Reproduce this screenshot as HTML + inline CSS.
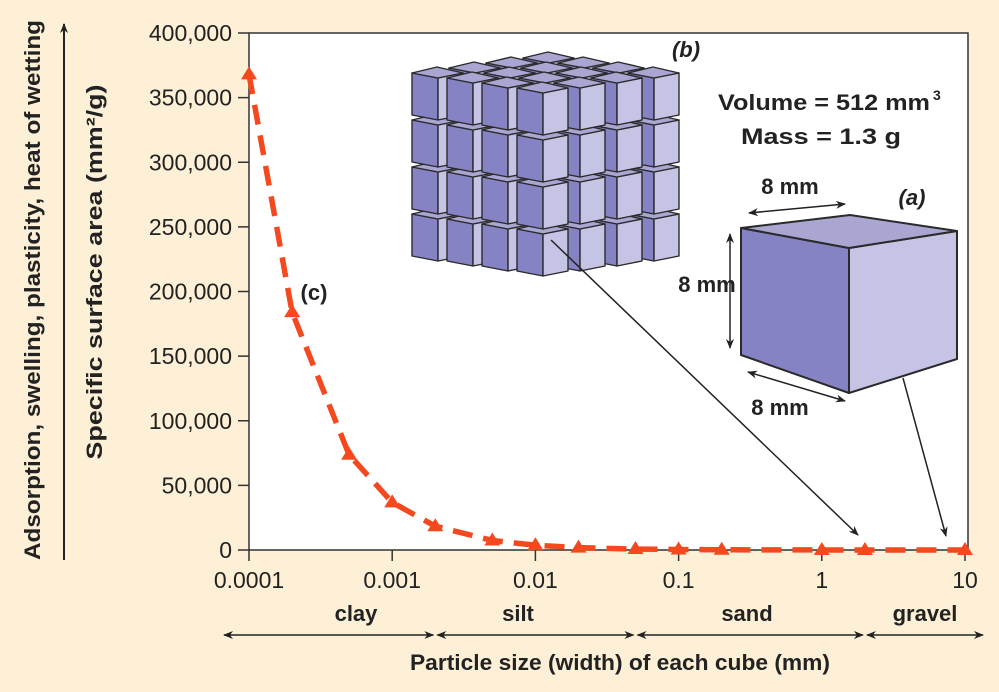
<!DOCTYPE html>
<html><head><meta charset="utf-8"><style>
body{margin:0;background:#fdf0d6;}
svg{display:block;font-family:"Liberation Sans",sans-serif;}
</style></head><body>
<svg id="chart" width="999" height="692" viewBox="0 0 999 692">
<defs><marker id="ah" markerWidth="10" markerHeight="8" refX="9" refY="4" orient="auto-start-reverse" markerUnits="userSpaceOnUse"><path d="M0,0 L10,4 L0,8 L3,4 Z" fill="#222"/></marker></defs>
<rect x="0" y="0" width="999" height="692" fill="#fdf0d6"/>
<rect x="249" y="33" width="719" height="517" fill="#fff" stroke="#333" stroke-width="1.5"/>
<g id="yaxis"></g>
<g id="xaxis"></g>
<g id="cubes"></g>
<g stroke="#2a2a2a" stroke-width="2" stroke-linejoin="round">
<polygon points="741,228 849,248 849,393 741,355" fill="#8583c4"/>
<polygon points="849,248 957,231 957,359 849,393" fill="#c6c4e4"/>
<polygon points="741,228 850,215 957,231 849,248" fill="#a9a6d2"/>
</g>
<g stroke="#222" stroke-width="1.5" fill="none">
<line x1="749" y1="213" x2="845" y2="204" marker-start="url(#ah)" marker-end="url(#ah)"/>
<line x1="730" y1="234" x2="730" y2="348" marker-start="url(#ah)" marker-end="url(#ah)"/>
<line x1="748" y1="372" x2="845" y2="401" marker-start="url(#ah)" marker-end="url(#ah)"/>
<line x1="551" y1="240" x2="858" y2="535" marker-end="url(#ah)"/>
<line x1="903" y1="378" x2="946" y2="536" marker-end="url(#ah)"/>
</g>
<g font-size="22" font-weight="bold" fill="#222">
<text x="790" y="194" text-anchor="middle">8 mm</text>
<text x="707" y="292" text-anchor="middle">8 mm</text>
<text x="780" y="415" text-anchor="middle">8 mm</text>
<text x="912" y="205" text-anchor="middle" font-style="italic">(a)</text>
<text x="686" y="57" text-anchor="middle" font-style="italic">(b)</text>
<text x="314" y="300" text-anchor="middle">(c)</text>
<text x="718" y="110" textLength="212" lengthAdjust="spacingAndGlyphs">Volume = 512 mm</text>
<text x="933" y="100" font-size="14">3</text>
<text x="741" y="144" textLength="160" lengthAdjust="spacingAndGlyphs">Mass = 1.3 g</text>
</g>
<g id="series"></g>
<g fill="#222" font-size="22" font-weight="bold">
<text transform="translate(102,272) rotate(-90)" text-anchor="middle" font-size="22" textLength="375" lengthAdjust="spacingAndGlyphs">Specific surface area (mm²/g)</text>
<text transform="translate(40,290) rotate(-90)" text-anchor="middle" font-size="22" textLength="540" lengthAdjust="spacingAndGlyphs">Adsorption, swelling, plasticity, heat of wetting</text>
<text x="620" y="670" text-anchor="middle" font-size="22" textLength="420" lengthAdjust="spacingAndGlyphs">Particle size (width) of each cube (mm)</text>
</g>
<line x1="64" y1="560" x2="64" y2="24" stroke="#222" stroke-width="2" marker-end="url(#ah)"/>
<g id="classes"></g>
</svg>
<script>
const yTicks=[0,50000,100000,150000,200000,250000,300000,350000,400000];
const xTicks=[0.0001,0.001,0.01,0.1,1,10];
const xTickLabels=["0.0001","0.001","0.01","0.1","1","10"];
const sizes=[0.0001,0.0002,0.0005,0.001,0.002,0.005,0.01,0.02,0.05,0.1,0.2,1,2,10];
const areas=[368000,184000,73700,36800,18400,7370,3680,1840,737,368,184,37,18,4];
const classNames=["clay","silt","sand","gravel"];
const classBounds=[0.00005,0.002,0.05,2,20];
const NS="http://www.w3.org/2000/svg";
const X0=249,X1=965,Y0=550,Y1=33;
const xs=v=>X0+(Math.log10(v)+4)/5*(X1-X0);
const ys=v=>Y0-v/400000*(Y0-Y1);
function mk(p,t,a){const e=document.createElementNS(NS,t);for(const k in a)e.setAttribute(k,a[k]);p.appendChild(e);return e;}
const ya=document.getElementById('yaxis');
yTicks.forEach(v=>{const l=mk(ya,'line',{x1:238,x2:249,y1:ys(v),y2:ys(v),stroke:'#333','stroke-width':1.5});


const t=mk(ya,'text',{x:232,y:ys(v)+8,'text-anchor':'end','font-size':23,fill:'#222'});


t.textContent=v.toLocaleString('en-US');});
const xa=document.getElementById('xaxis');
xTicks.forEach((v,i)=>{const l=mk(xa,'line',{x1:xs(v),x2:xs(v),y1:550,y2:561,stroke:'#333','stroke-width':1.5});


const t=mk(xa,'text',{x:xs(v),y:588,'text-anchor':'middle','font-size':23,fill:'#222'});


t.textContent=xTickLabels[i];});
const cg=document.getElementById('cubes');
function cube(x,y){const g=mk(cg,'g',{stroke:'#2a2a2a','stroke-width':1.4,'stroke-linejoin':'round'});


mk(g,'polygon',{points:`${x},${y+2} ${x+26},${y+7} ${x+26},${y+49} ${x},${y+44}`,fill:'#8583c4'});
mk(g,'polygon',{points:`${x+26},${y+7} ${x+51},${y+2} ${x+51},${y+44} ${x+26},${y+49}`,fill:'#c6c4e4'});
mk(g,'polygon',{points:`${x},${y+2} ${x+25},${y-4} ${x+51},${y+2} ${x+26},${y+7}`,fill:'#a9a6d2'});}
for(let r=3;r>=0;r--){for(let s=6;s>=0;s--){for(let i=3;i>=0;i--){const j=s-i;if(j<0||j>3)continue;
cube(517-35*i+37*j,86+47*r-5*i-5*j);}}}
const sg=document.getElementById('series');
const d=sizes.map((v,i)=>(i?'L':'M')+xs(v)+','+ys(areas[i])).join(' ');
const p=mk(sg,'path',{d:d,fill:'none',stroke:'#f4491f','stroke-width':5.5,'stroke-dasharray':'20,11'});


sizes.forEach((v,i)=>{const x=xs(v),y=ys(areas[i]);const t=mk(sg,'polygon',{points:`${x},${y-8} ${x+8},${y+5} ${x-8},${y+5}`,fill:'#f4491f'});

});
const cl=document.getElementById('classes');
classNames.forEach((n,i)=>{const a=Math.max(xs(classBounds[i]),222)+2,b=Math.min(xs(classBounds[i+1]),985)-2;
const l=mk(cl,'line',{x1:a,x2:b,y1:635,y2:635,stroke:'#222','stroke-width':1.5,'marker-start':'url(#ah)','marker-end':'url(#ah)'});


const t=mk(cl,'text',{x:[356,518,747,925][i],y:621,'text-anchor':'middle','font-size':22,'font-weight':'bold',fill:'#222'});


t.textContent=n;});
</script>
</body></html>
